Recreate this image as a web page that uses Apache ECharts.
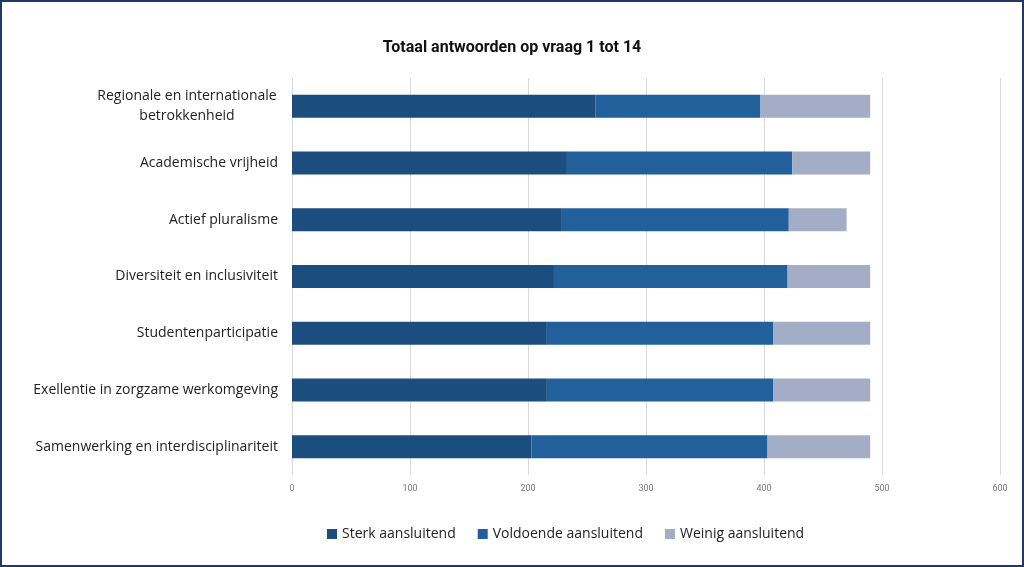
<!DOCTYPE html>
<html>
<head>
<meta charset="utf-8">
<script src="https://cdn.jsdelivr.net/npm/echarts@6/dist/echarts.min.js"></script>
<style>html,body{margin:0;padding:0;background:#fff}#c{width:1024px;height:567px}</style>
</head>
<body>
<div id="c"></div>
<script>
var categories = ["Regionale en internationale\nbetrokkenheid","Academische vrijheid","Actief pluralisme","Diversiteit en inclusiviteit","Studentenparticipatie","Exellentie in zorgzame werkomgeving","Samenwerking en interdisciplinariteit"];
var sterk = [257, 233, 228, 222, 216, 216, 203];
var voldoende = [140, 191, 193, 198, 192, 192, 200];
var weinig = [93, 66, 49, 70, 82, 82, 87];
var seriesNames = ["Sterk aansluitend","Voldoende aansluitend","Weinig aansluitend"];
var colors = ["#1b4e7f","#22609b","#a3aec6"];

var chart = echarts.init(document.getElementById('c'));
var font = "'Open Sans', 'Noto Sans', sans-serif";
function mk(name, data, i){
  return {name:name, type:'bar', stack:'t', data:data, barWidth:23,
    itemStyle:{color:colors[i]}, emphasis:{disabled:true}};
}
chart.setOption({
  animation:false,
  backgroundColor:'#fff',
  graphic:[{type:'rect', shape:{x:1,y:1,width:1022,height:565}, style:{fill:'none', stroke:'#1f3864', lineWidth:2}, silent:true}],
  title:{text:'Totaal antwoorden op vraag 1 tot 14', left:'center', top:35,
    textStyle:{fontFamily:"'Liberation Sans Narrow', 'Roboto', sans-serif", fontWeight:'bold', fontSize:16, color:'#111'}},
  grid:{left:292, right:24, top:78, bottom:92, containLabel:false},
  xAxis:{type:'value', min:0, max:600, interval:100,
    axisLine:{show:false}, axisTick:{show:false},
    splitLine:{lineStyle:{color:'#d9d9d9', width:1}},
    axisLabel:{color:'#777', fontSize:9, fontFamily:"'Liberation Sans Narrow', Roboto, sans-serif", margin:9}},
  yAxis:{type:'category', data:categories, inverse:true,
    axisLine:{show:false}, axisTick:{show:false},
    axisLabel:{color:'#222', fontSize:14, fontFamily:font, margin:14, lineHeight:20,
      formatter:function(v){ return v.indexOf('\n')>=0 ? '{c|'+v+'}' : v; },
      rich:{c:{width:182, align:'center', fontSize:14, lineHeight:20, fontFamily:font, color:'#222'}}}},
  legend:{bottom:21, left:322, itemWidth:10, itemHeight:10, itemGap:22, icon:'rect',
    textStyle:{fontSize:14, color:'#222', fontFamily:font}, data:seriesNames},
  series:[mk(seriesNames[0], sterk, 0), mk(seriesNames[1], voldoende, 1), mk(seriesNames[2], weinig, 2)]
});
</script>
</body>
</html>
